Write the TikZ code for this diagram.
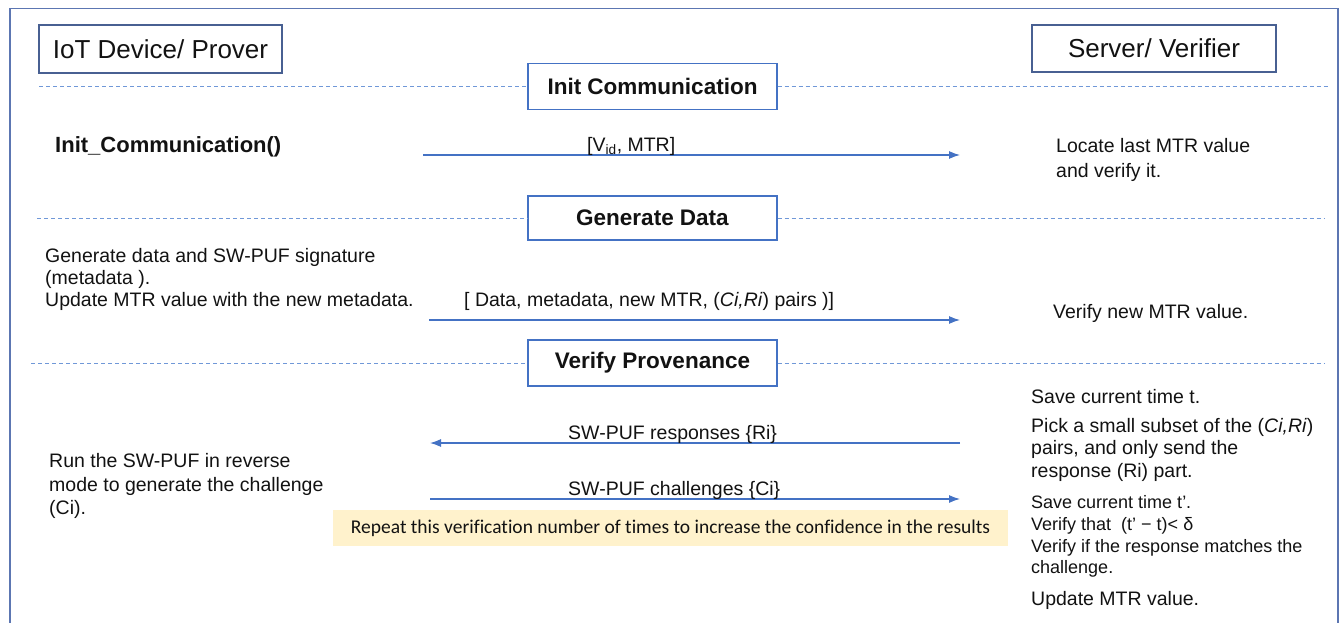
\documentclass[tikz,border=0pt]{standalone}
\usepackage{fontspec}
\setmainfont{Liberation Sans}
\newfontfamily\notefont[Ligatures=NoCommon]{Carlito}
\usetikzlibrary{arrows.meta}

\definecolor{framec}{RGB}{92,118,178}
\definecolor{rolec}{RGB}{72,96,146}
\definecolor{phasec}{RGB}{68,114,196}
\definecolor{dashc}{RGB}{112,152,216}
\definecolor{arrc}{RGB}{68,114,196}
\definecolor{notec}{RGB}{255,242,204}
\definecolor{inkc}{RGB}{18,18,18}

\newcommand{\bodyfs}{\fontsize{19.5}{23}\selectfont}
\newcommand{\smallfs}{\fontsize{18}{21}\selectfont}
\newcommand{\phasefs}{\fontsize{22.5}{26}\selectfont\bfseries}
\newcommand{\rolefs}{\fontsize{26}{30}\selectfont}

\tikzset{
  rolebox/.style={draw=rolec, line width=1.2pt, minimum width=243pt, minimum height=48pt,
    inner sep=0pt, font=\rolefs, text=inkc},
  phasebox/.style={draw=phasec, line width=1.2pt, fill=white, minimum width=249pt,
    minimum height=46pt, inner sep=0pt, font=\phasefs, text=inkc},
  divider/.style={draw=dashc, line width=0.9pt, dash pattern=on 4pt off 3pt},
  msg/.style={draw=arrc, line width=1.2pt, -{Latex[length=11pt,width=8pt]}},
  txt/.style={inner sep=0pt, anchor=base west, font=\bodyfs, text=inkc},
  smalltxt/.style={inner sep=0pt, anchor=base west, font=\smallfs, text=inkc},
  boldtxt/.style={inner sep=0pt, anchor=base west, font=\fontsize{22}{26}\selectfont\bfseries, text=inkc},
  notebox/.style={fill=notec, minimum width=675pt, minimum height=36pt, inner sep=0pt,
    font=\notefont\fontsize{19.5}{22}\selectfont, text=inkc},
}

\begin{document}
\begin{tikzpicture}[x=1pt, y=-1pt]
  \useasboundingbox (0,0) rectangle (1341,623);

  % outer frame (open at the bottom)
  \draw[framec, line width=1.8pt] (10,623) -- (10,8.5) -- (1338,8.5) -- (1338,623);

  % roles
  \node[rolebox] (prover) at (160.5,49) {IoT Device/ Prover};
  \node[rolebox, minimum width=244pt, minimum height=47pt] (verifier) at (1154,48.5) {Server/ Verifier};

  % phase headers on dashed dividers
  \node[phasebox] (ph1) at (652.5,86.5) {Init Communication};
  \node[phasebox, minimum height=44pt] (ph2) at (652.5,218) {Generate Data};
  \node[phasebox] (ph3) at (652.5,363) {Verify Provenance};

  \coordinate (d1l) at (39,86.5);   \coordinate (d1r) at (1328,86.5);
  \coordinate (d2l) at (37,218);    \coordinate (d2r) at (1325,218);
  \coordinate (d3l) at (31,363);    \coordinate (d3r) at (1325,363);
  \draw[divider] (d1l) -- (ph1.west);  \draw[divider] (ph1.east) -- (d1r);
  \draw[divider] (d2l) -- (ph2.west);  \draw[divider] (ph2.east) -- (d2r);
  \draw[divider] (d3l) -- (ph3.west);  \draw[divider] (ph3.east) -- (d3r);

  % phase 1: init communication
  \node[boldtxt] (initcall) at (55,153) {Init\_Communication()};
  \coordinate (m1s) at (423,155);  \coordinate (m1e) at (960,155);
  \draw[msg] (m1s) -- (m1e);
  \node[txt] (m1lbl) at (587,151) {[V\textsubscript{id}, MTR]};
  \node[txt] (loc1) at (1056,153) {Locate last MTR value};
  \node[txt] (loc2) at (1056,177) {and verify it.};

  % phase 2: generate data
  \node[txt] (gen1) at (45,262) {Generate data and SW-PUF signature};
  \node[txt] (gen2) at (45,284) {(metadata ).};
  \node[txt] (gen3) at (45,306) {Update MTR value with the new metadata.};
  \coordinate (m2s) at (429,320);  \coordinate (m2e) at (960,320);
  \draw[msg] (m2s) -- (m2e);
  \node[txt] (m2lbl) at (464,306) {[ Data, metadata, new MTR, (\textit{Ci,Ri}) pairs )]};
  \node[txt] (ver2) at (1053,318) {Verify new MTR value.};

  % phase 3: verify provenance
  \coordinate (m3s) at (960,443);  \coordinate (m3e) at (430,443);
  \draw[msg] (m3s) -- (m3e);
  \node[txt] (m3lbl) at (568,439) {SW-PUF responses \{Ri\}};
  \coordinate (m4s) at (430,499);  \coordinate (m4e) at (960,499);
  \draw[msg] (m4s) -- (m4e);
  \node[txt] (m4lbl) at (568,495) {SW-PUF challenges \{Ci\}};

  \node[txt] (run1) at (49,467) {Run the SW-PUF in reverse};
  \node[txt] (run2) at (49,491) {mode to generate the challenge};
  \node[txt] (run3) at (49,514) {(Ci).};

  \node[notebox] (repeat) at (670.5,528) {Repeat this verification number of times to increase the confidence in the results};

  \node[txt] (sv1) at (1031,403) {Save current time t.};
  \node[txt] (sv2) at (1031,432) {Pick a small subset of the (\textit{Ci,Ri})};
  \node[txt] (sv3) at (1031,454) {pairs, and only send the};
  \node[txt] (sv4) at (1031,477) {response (Ri) part.};
  \node[smalltxt] (sv5) at (1031,508) {Save current time t’.};
  \node[smalltxt] (sv6) at (1031,530) {Verify that~ (t’ − t)< δ};
  \node[smalltxt] (sv7) at (1031,552) {Verify if the response matches the};
  \node[smalltxt] (sv8) at (1031,573) {challenge.};
  \node[txt] (sv9) at (1031,605) {Update MTR value.};
\end{tikzpicture}
\end{document}
